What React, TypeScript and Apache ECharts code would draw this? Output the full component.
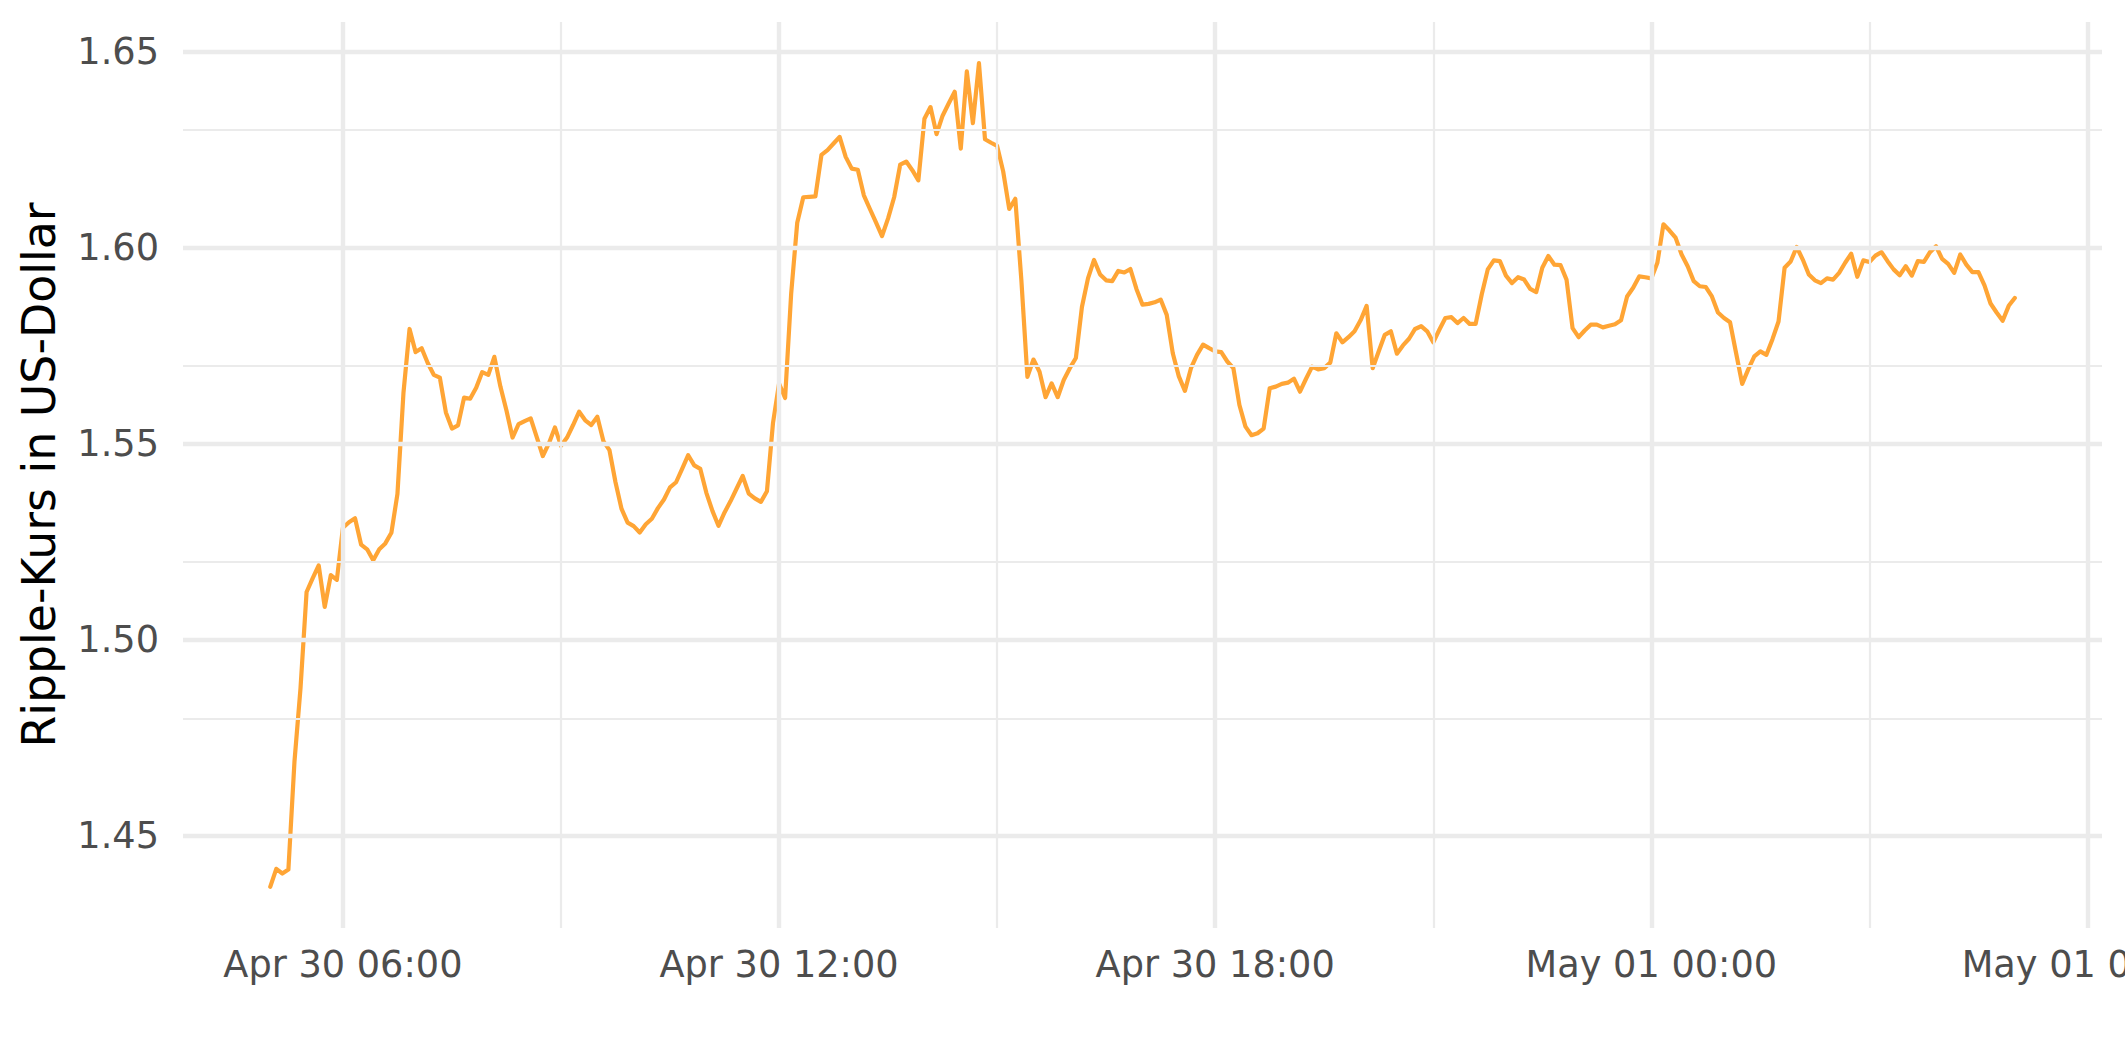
import React, { useEffect, useRef } from "react";
import * as echarts from "echarts";

// Ripple (XRP) price in USD, 5-minute steps from Apr 30 05:00 to May 01 05:00
const START_TIME = "2021-04-30T05:00:00Z";
const STEP_MINUTES = 5;
const xrpUsd = [
  1.4370, 1.4416, 1.4404, 1.4414, 1.4689, 1.4877, 1.5122, 1.5157, 1.5190, 1.5084, 1.5165, 1.5153,
  1.5286, 1.5300, 1.5310, 1.5243, 1.5231, 1.5203, 1.5231, 1.5246, 1.5273, 1.5372, 1.5631, 1.5793,
  1.5734, 1.5744, 1.5706, 1.5676, 1.5669, 1.5580, 1.5539, 1.5547, 1.5618, 1.5615, 1.5643, 1.5683,
  1.5676, 1.5722, 1.5646, 1.5585, 1.5516, 1.5550, 1.5558, 1.5565, 1.5517, 1.5469, 1.5501, 1.5542,
  1.5495, 1.5516, 1.5548, 1.5582, 1.5560, 1.5548, 1.5569, 1.5507, 1.5484, 1.5402, 1.5334, 1.5299,
  1.5290, 1.5274, 1.5295, 1.5309, 1.5336, 1.5358, 1.5389, 1.5402, 1.5436, 1.5471, 1.5445, 1.5436,
  1.5375, 1.5329, 1.5291, 1.5325, 1.5354, 1.5386, 1.5418, 1.5373, 1.5361, 1.5352, 1.5379, 1.5553,
  1.5654, 1.5617, 1.5883, 1.6064, 1.6129, 1.6130, 1.6131, 1.6237, 1.6249, 1.6266, 1.6283, 1.6232,
  1.6202, 1.6199, 1.6134, 1.6099, 1.6065, 1.6030, 1.6075, 1.6129, 1.6212, 1.6220, 1.6198, 1.6172,
  1.6329, 1.6359, 1.6290, 1.6337, 1.6368, 1.6398, 1.6253, 1.6450, 1.6318, 1.6471, 1.6277, 1.6268,
  1.6260, 1.6195, 1.6099, 1.6125, 1.5918, 1.5671, 1.5715, 1.5684, 1.5619, 1.5654, 1.5619, 1.5663,
  1.5693, 1.5719, 1.5849, 1.5922, 1.5969, 1.5932, 1.5917, 1.5915, 1.5941, 1.5937, 1.5946, 1.5895,
  1.5855, 1.5857, 1.5861, 1.5868, 1.5829, 1.5731, 1.5672, 1.5635, 1.5693, 1.5727, 1.5753, 1.5744,
  1.5736, 1.5734, 1.5710, 1.5693, 1.5599, 1.5544, 1.5522, 1.5527, 1.5539, 1.5642, 1.5646, 1.5653,
  1.5656, 1.5666, 1.5633, 1.5666, 1.5697, 1.5690, 1.5693, 1.5707, 1.5782, 1.5759, 1.5772, 1.5787,
  1.5815, 1.5852, 1.5693, 1.5736, 1.5778, 1.5787, 1.5730, 1.5751, 1.5768, 1.5793, 1.5800, 1.5787,
  1.5759, 1.5791, 1.5821, 1.5823, 1.5808, 1.5821, 1.5806, 1.5806, 1.5881, 1.5945, 1.5968, 1.5966,
  1.5929, 1.5910, 1.5925, 1.5919, 1.5895, 1.5887, 1.5949, 1.5979, 1.5957, 1.5956, 1.5919, 1.5795,
  1.5772, 1.5789, 1.5804, 1.5804, 1.5797, 1.5801, 1.5805, 1.5815, 1.5876, 1.5898, 1.5927, 1.5925,
  1.5922, 1.5962, 1.6060, 1.6044, 1.6026, 1.5983, 1.5953, 1.5915, 1.5902, 1.5900, 1.5876, 1.5835,
  1.5821, 1.5810, 1.5731, 1.5653, 1.5690, 1.5723, 1.5736, 1.5727, 1.5767, 1.5812, 1.5949, 1.5965,
  1.6002, 1.5970, 1.5932, 1.5917, 1.5910, 1.5922, 1.5919, 1.5936, 1.5962, 1.5985, 1.5926, 1.5968,
  1.5964, 1.5980, 1.5989, 1.5966, 1.5945, 1.5930, 1.5953, 1.5929, 1.5966, 1.5964, 1.5989, 1.6004,
  1.5972, 1.5959, 1.5936, 1.5983, 1.5957, 1.5938, 1.5938, 1.5904, 1.5858, 1.5835, 1.5814, 1.5852, 1.5872,
];

const yMajorTicks = [1.45, 1.5, 1.55, 1.6, 1.65];
const yMinorTicks = [1.475, 1.525, 1.575, 1.625];
const xMajorTicks = [
  "2021-04-30T06:00:00Z",
  "2021-04-30T12:00:00Z",
  "2021-04-30T18:00:00Z",
  "2021-05-01T00:00:00Z",
  "2021-05-01T06:00:00Z",
];
const xMinorTicks = [
  "2021-04-30T09:00:00Z",
  "2021-04-30T15:00:00Z",
  "2021-04-30T21:00:00Z",
  "2021-05-01T03:00:00Z",
];
const X_MIN = "2021-04-30T03:48:00Z";
const X_MAX = "2021-05-01T06:12:00Z";
const Y_MIN = 1.4265;
const Y_MAX = 1.6576;

const MONTHS = ["Jan", "Feb", "Mar", "Apr", "May", "Jun", "Jul", "Aug", "Sep", "Oct", "Nov", "Dec"];
const pad = (n: number) => (n < 10 ? "0" + n : "" + n);
const fmtTime = (ms: number) => {
  const d = new Date(ms);
  return `${MONTHS[d.getUTCMonth()]} ${pad(d.getUTCDate())} ${pad(d.getUTCHours())}:${pad(d.getUTCMinutes())}`;
};

const FONT = "DejaVu Sans";
const GRID_COLOR = "#EBEBEB";

export default function App() {
  const ref = useRef<HTMLDivElement>(null);
  useEffect(() => {
    if (!ref.current) return;
    const chart = echarts.init(ref.current, null, { renderer: "svg" });
    const start = Date.parse(START_TIME);
    const seriesData = xrpUsd.map((v, i) => [start + i * STEP_MINUTES * 60000, v]);
    const xMajor = xMajorTicks.map((t) => Date.parse(t));
    const xMinor = xMinorTicks.map((t) => Date.parse(t));

    const gridLine = (width: number) => ({
      color: GRID_COLOR,
      width,
      type: "solid" as const,
    });

    const markData: any[] = [
      ...yMinorTicks.map((v) => ({ yAxis: v, lineStyle: gridLine(2.2) })),
      ...xMinor.map((v) => ({ xAxis: v, lineStyle: gridLine(2.2) })),
      ...yMajorTicks.map((v) => ({ yAxis: v, lineStyle: gridLine(4.4) })),
      ...xMajor.map((v) => ({ xAxis: v, lineStyle: gridLine(4.4) })),
    ];

    chart.setOption({
      animation: false,
      backgroundColor: "#FFFFFF",
      grid: {
        left: 183,
        right: 23,
        top: 22,
        bottom: 134,
        containLabel: false,
        outerBoundsMode: "none",
      },
      xAxis: {
        type: "value",
        min: Date.parse(X_MIN),
        max: Date.parse(X_MAX),
        axisLine: { show: false },
        axisTick: { show: false },
        splitLine: { show: false },
        axisLabel: {
          customValues: xMajor,
          formatter: (v: number) => fmtTime(v),
          fontFamily: FONT,
          fontSize: 36.7,
          color: "#4D4D4D",
          margin: 18,
          hideOverlap: false,
        },
      },
      yAxis: {
        type: "value",
        min: Y_MIN,
        max: Y_MAX,
        name: "Ripple-Kurs in US-Dollar",
        nameLocation: "middle",
        nameRotate: 90,
        nameGap: 121,
        nameTextStyle: { fontFamily: FONT, fontSize: 45.8, color: "#000000" },
        axisLine: { show: false },
        axisTick: { show: false },
        splitLine: { show: false },
        axisLabel: {
          customValues: yMajorTicks,
          formatter: (v: number) => v.toFixed(2),
          fontFamily: FONT,
          fontSize: 36.7,
          color: "#4D4D4D",
          margin: 24,
        },
      },
      series: [
        {
          type: "line",
          data: [],
          z: 1,
          silent: true,
          markLine: {
            silent: true,
            symbol: ["none", "none"],
            label: { show: false },
            emphasis: { disabled: true },
            animation: false,
            data: markData,
          },
        },
        {
          type: "line",
          data: seriesData,
          z: 3,
          showSymbol: false,
          symbol: "none",
          lineStyle: { color: "#FFA535", width: 4.2, join: "round", cap: "round" },
          silent: true,
        },
      ],
    });
    return () => chart.dispose();
  }, []);

  return (
    <div
      ref={ref}
      style={{ position: "absolute", left: 0, top: 0, width: 2125, height: 1062, background: "#fff" }}
    />
  );
}
